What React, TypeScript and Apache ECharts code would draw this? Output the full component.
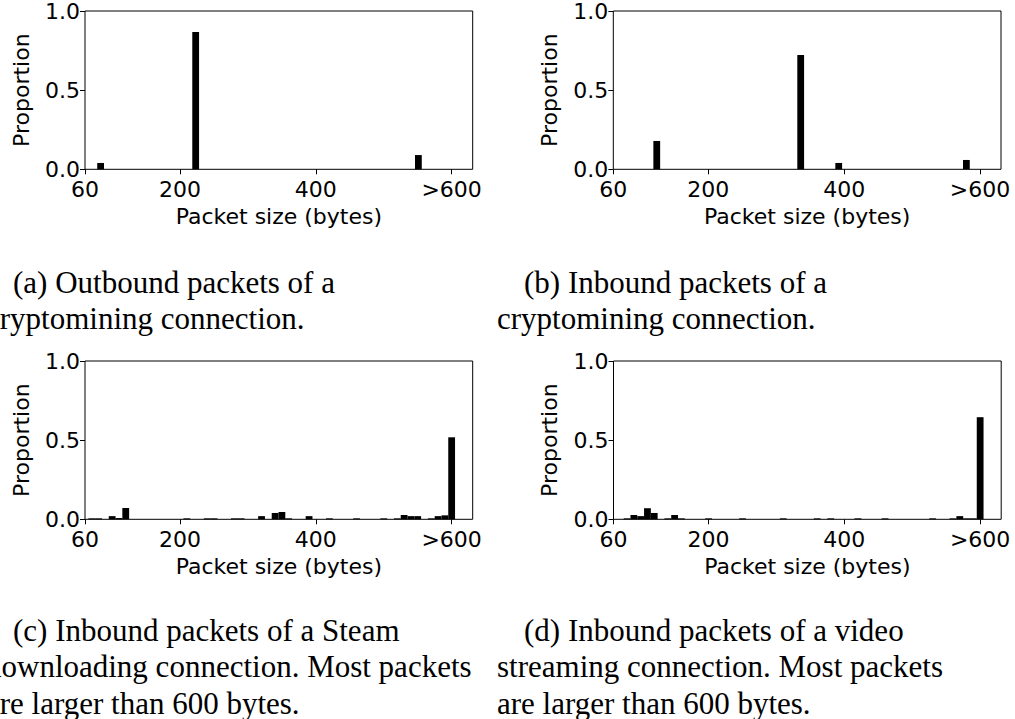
import React, { useEffect, useRef } from "react";
import * as echarts from "echarts";

// ---- data ----
const tickValues = [60, 200, 400, 600];
const tickLabels = ["60", "200", "400", ">600"];
const yMin = 0;
const yMax = 1.0;
const yStep = 0.5;
const xMin = 60;
const xMax = 631;
const binWidth = 10;

const sizesA = [83, 223, 551];
const propA = [0.04, 0.867, 0.09];

const sizesB = [124, 336, 392, 580];
const propB = [0.179, 0.722, 0.04, 0.059];

const sizesC = [70, 80, 100, 110, 120, 210, 240, 250, 280, 290, 320, 340, 350, 360, 390, 420, 460, 500, 520, 530, 540, 550, 570, 580, 590, 600];
const propC = [0.006, 0.006, 0.02, 0.008, 0.072, 0.006, 0.006, 0.006, 0.006, 0.006, 0.02, 0.04, 0.046, 0.006, 0.02, 0.006, 0.006, 0.006, 0.006, 0.027, 0.02, 0.02, 0.006, 0.02, 0.025, 0.518];

const sizesD = [80, 90, 100, 110, 120, 140, 150, 160, 200, 250, 310, 360, 380, 420, 460, 530, 560, 570, 580, 590, 600];
const propD = [0.006, 0.027, 0.02, 0.07, 0.04, 0.006, 0.027, 0.006, 0.006, 0.006, 0.006, 0.006, 0.006, 0.006, 0.006, 0.006, 0.006, 0.02, 0.006, 0.006, 0.645];

const xTitle = "Packet size (bytes)";
const yTitle = "Proportion";

const captionA = ["(a) Outbound packets of a", "cryptomining connection."];
const captionB = ["(b) Inbound packets of a", "cryptomining connection."];
const captionC = ["(c) Inbound packets of a Steam", "downloading connection. Most packets", "are larger than 600 bytes."];
const captionD = ["(d) Inbound packets of a video", "streaming connection. Most packets", "are larger than 600 bytes."];

// ---- layout ----
const panels = [
  { sizes: sizesA, props: propA, left: 85, top: 11, caption: captionA, capX: -14, capBase: 298 },
  { sizes: sizesB, props: propB, left: 613.3, top: 11, caption: captionB, capX: 497, capBase: 298 },
  { sizes: sizesC, props: propC, left: 85, top: 361, caption: captionC, capX: -14, capBase: 646 },
  { sizes: sizesD, props: propD, left: 613.5, top: 361, caption: captionD, capX: 497, capBase: 646 },
];
const gridW = 387.7;
const gridH = 158.3;
const indent = 27;
const lineGap = 36.3;
const sansFont = "DejaVu Sans";
const fontSize = 22;

const renderBar = (params: any, api: any) => {
  const x = api.value(0);
  const y = api.value(1);
  const p0 = api.coord([x - binWidth / 2, y]);
  const p1 = api.coord([x + binWidth / 2, 0]);
  return {
    type: "rect",
    shape: { x: p0[0], y: p0[1], width: p1[0] - p0[0], height: p1[1] - p0[1] },
    style: { fill: "#000" },
  };
};

export default function App() {
  const ref = useRef<HTMLDivElement>(null);
  useEffect(() => {
    if (!ref.current) return;
    const chart = echarts.init(ref.current, undefined, { renderer: "svg" });
    const grid: any[] = [];
    const xAxis: any[] = [];
    const yAxis: any[] = [];
    const series: any[] = [];
    const graphic: any[] = [];
    panels.forEach((p, i) => {
      grid.push({
        left: p.left,
        top: p.top,
        width: gridW,
        height: gridH,
        show: true,
        borderColor: "#000",
        borderWidth: 1,
        backgroundColor: "transparent",
      });
      xAxis.push({
        gridIndex: i,
        type: "value",
        min: xMin,
        max: xMax,
        splitLine: { show: false },
        axisLine: { show: false },
        axisTick: { show: true, customValues: tickValues, length: 5, inside: false, lineStyle: { color: "#000", width: 1 } },
        axisLabel: {
          customValues: tickValues,
          formatter: (v: number) => tickLabels[tickValues.indexOf(v)] ?? String(v),
          color: "#000",
          fontFamily: sansFont,
          fontSize,
          margin: 9,
        },
        name: xTitle,
        nameLocation: "middle",
        nameGap: 36,
        nameTextStyle: { color: "#000", fontFamily: sansFont, fontSize },
      });
      yAxis.push({
        gridIndex: i,
        type: "value",
        min: yMin,
        max: yMax,
        interval: yStep,
        splitLine: { show: false },
        axisLine: { show: false },
        axisTick: { show: true, length: 5, inside: false, lineStyle: { color: "#000", width: 1 } },
        axisLabel: {
          formatter: (v: number) => v.toFixed(1),
          color: "#000",
          fontFamily: sansFont,
          fontSize,
          margin: 5,
        },
        name: yTitle,
        nameLocation: "middle",
        nameGap: 53,
        nameTextStyle: { color: "#000", fontFamily: sansFont, fontSize },
      });
      series.push({
        type: "custom",
        xAxisIndex: i,
        yAxisIndex: i,
        renderItem: renderBar,
        encode: { x: 0, y: 1 },
        data: p.sizes.map((s, k) => [s, p.props[k]]),
      });
      p.caption.forEach((line, k) => {
        graphic.push({
          type: "text",
          x: p.capX + (k === 0 ? indent : 0),
          y: p.capBase + k * lineGap,
          style: {
            text: line,
            font: '31px "Liberation Serif"',
            fill: "#000",
            verticalAlign: "bottom",
          },
        });
      });
    });
    chart.setOption({
      animation: false,
      backgroundColor: "#fff",
      grid,
      xAxis,
      yAxis,
      series,
      graphic,
    });
    return () => chart.dispose();
  }, []);
  return (
    <div
      ref={ref}
      style={{ position: "fixed", left: 0, top: 0, width: 1015, height: 719 }}
    />
  );
}
